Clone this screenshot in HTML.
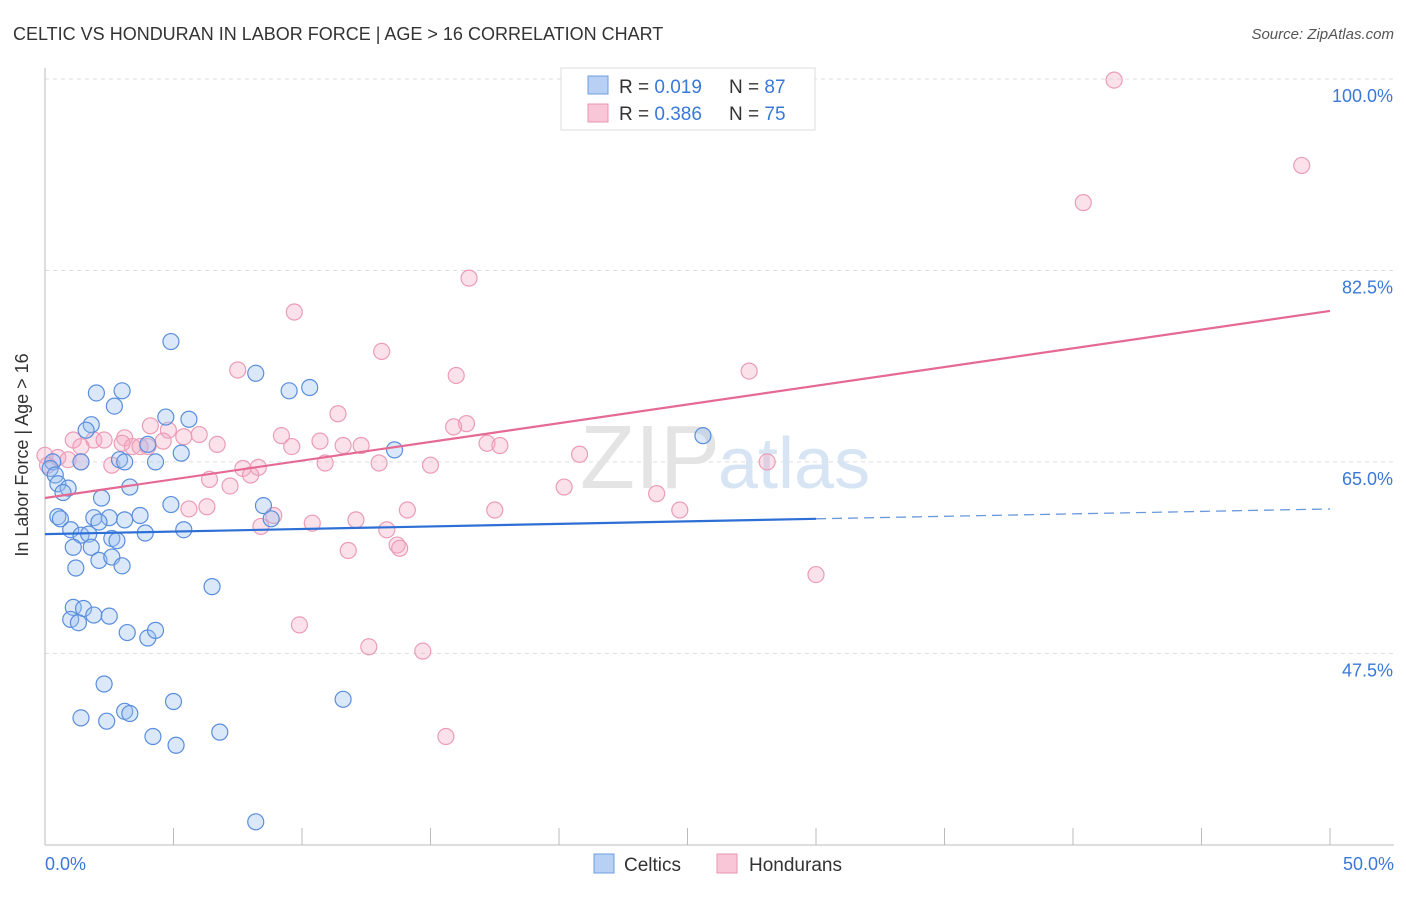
<!DOCTYPE html>
<html><head><meta charset="utf-8">
<style>
body{margin:0;background:#fff;font-family:"Liberation Sans",sans-serif;}
svg text{font-family:"Liberation Sans",sans-serif;}
</style></head>
<body>
<svg id="chart" width="1406" height="892" xmlns="http://www.w3.org/2000/svg">
<text x="13" y="40" font-size="18" fill="#333">CELTIC VS HONDURAN IN LABOR FORCE | AGE &gt; 16 CORRELATION CHART</text>
<text x="1394" y="39" font-size="15" fill="#555" font-style="italic" text-anchor="end">Source: ZipAtlas.com</text>
<g id="grid"></g>
<text x="720" y="488" font-size="90" fill="#e4e4e4" text-anchor="end" font-family="Liberation Serif">ZIP</text>
<text x="718" y="488" font-size="72" fill="#d6e4f3">atlas</text>
<g id="pts"></g>
<g id="lines"></g>
<text x="28" y="455" font-size="18" fill="#333" text-anchor="middle" transform="rotate(-90 28 455)">In Labor Force | Age &gt; 16</text>
<text x="45" y="870" font-size="18" fill="#3a78d8">0.0%</text>
<text x="1394" y="870" font-size="18" fill="#3a78d8" text-anchor="end">50.0%</text>
<g>
<rect x="561" y="68" width="254" height="62" fill="#fff" stroke="#ddd"/>
<rect x="588" y="76" width="20" height="18" fill="#b7d0f3" stroke="#6e9ee0"/>
<rect x="588" y="104" width="20" height="18" fill="#f8c6d6" stroke="#ea95b0"/>
<text x="619" y="93" font-size="19" fill="#333">R = <tspan fill="#3a78d8">0.019</tspan></text>
<text x="729" y="93" font-size="19" fill="#333">N = <tspan fill="#3a78d8">87</tspan></text>
<text x="619" y="120" font-size="19" fill="#333">R = <tspan fill="#3a78d8">0.386</tspan></text>
<text x="729" y="120" font-size="19" fill="#333">N = <tspan fill="#3a78d8">75</tspan></text>
</g>
<g>
<rect x="594" y="854" width="20" height="19" fill="#b7d0f3" stroke="#6e9ee0"/>
<text x="624" y="871" font-size="19" fill="#333">Celtics</text>
<rect x="717" y="854" width="20" height="19" fill="#f8c6d6" stroke="#ea95b0"/>
<text x="749" y="871" font-size="19" fill="#333">Hondurans</text>
</g>
</svg>
<script>
const yTicks=[100,82.5,65,47.5];
const yTickLabels=["100.0%","82.5%","65.0%","47.5%"];
const xTicks=[0,5,10,15,20,25,30,35,40,45,50];
const celticsX=[4.9,8.2,2.0,3.0,2.7,9.5,10.3,4.7,5.6,1.8,1.6,25.6,13.6,4.0,5.3,2.9,3.1,4.3,1.4,0.3,0.2,0.4,0.5,0.9,0.7,3.3,2.2,4.9,8.5,3.7,0.5,0.6,1.9,2.5,3.1,2.1,8.8,1.0,3.9,5.4,1.4,1.7,2.6,2.8,1.1,1.8,2.1,2.6,3.0,1.2,6.5,1.1,1.5,1.9,2.5,1.0,1.3,3.2,4.0,4.3,2.3,1.4,2.4,3.1,3.3,5.0,11.6,4.2,5.1,6.8,8.2];
const celticsY=[76.0,73.1,71.3,71.5,70.1,71.5,71.8,69.1,68.9,68.4,67.9,67.4,66.1,66.6,65.8,65.2,65.0,65.0,65.0,65.0,64.4,63.8,63.0,62.6,62.2,62.7,61.7,61.1,61.0,60.1,60.0,59.8,59.9,59.9,59.7,59.5,59.8,58.8,58.5,58.8,58.3,58.4,58.0,57.8,57.2,57.2,56.0,56.3,55.5,55.3,53.6,51.7,51.6,51.0,50.9,50.6,50.3,49.4,48.9,49.6,44.7,41.6,41.3,42.2,42.0,43.1,43.3,39.9,39.1,40.3,32.1];
const hondX=[41.6,48.9,40.4,16.5,9.7,13.1,7.5,16.0,27.4,11.4,16.4,15.9,4.1,4.8,1.1,1.9,2.3,3.1,3.0,3.4,3.7,4.0,5.4,6.0,4.6,6.7,9.2,9.6,10.7,11.6,12.3,17.2,17.7,20.8,28.1,0.0,0.1,0.5,0.9,1.4,1.4,2.6,7.7,8.3,8.0,10.9,13.0,15.0,6.4,7.2,20.2,23.8,5.6,6.3,8.9,8.4,10.4,12.1,13.3,14.1,17.5,24.7,11.8,13.7,13.8,30.0,9.9,12.6,14.7,15.6];
const hondY=[99.9,92.1,88.7,81.8,78.7,75.1,73.4,72.9,73.3,69.4,68.5,68.2,68.3,67.9,67.0,67.0,67.0,67.2,66.7,66.4,66.4,66.4,67.3,67.5,66.9,66.6,67.4,66.4,66.9,66.5,66.5,66.7,66.5,65.7,65.0,65.6,64.7,65.4,65.2,66.4,65.0,64.7,64.4,64.5,63.8,64.9,64.9,64.7,63.4,62.8,62.7,62.1,60.7,60.9,60.1,59.1,59.4,59.7,58.8,60.6,60.6,60.6,56.9,57.4,57.1,54.7,50.1,48.1,47.7,39.9];
const celticsTrend=[58.4,59.8,60.7]; // at x=0,30,50
const trendXs=[0,30,50];
const hondTrend=[61.7,78.8]; // at x=0,50
const NS="http://www.w3.org/2000/svg";
const sx=v=>45+v*25.7;
const sy=v=>79+(100-v)*10.94;
function mk(tag,attrs,parent){const e=document.createElementNS(NS,tag);for(const k in attrs)e.setAttribute(k,attrs[k]);parent.appendChild(e);return e;}
const grid=document.getElementById('grid');
yTicks.forEach((t,i)=>{
 const l=mk('line',{x1:45,x2:1394,y1:sy(t),y2:sy(t),stroke:'#ddd','stroke-dasharray':'4,4'},grid);
 
 
 const tx=mk('text',{x:1393,y:sy(t)+23,'font-size':18,fill:'#3a78d8','text-anchor':'end'},grid);
 tx.textContent=yTickLabels[i];
 
 
});
const ax=mk('line',{x1:45,x2:45,y1:68,y2:845,stroke:'#bbb'},grid);


const bx=mk('line',{x1:45,x2:1394,y1:845,y2:845,stroke:'#bbb'},grid);


xTicks.forEach(t=>{
 const l=mk('line',{x1:sx(t),x2:sx(t),y1:828,y2:845,stroke:'#bbb'},grid);
 
 
});
const pts=document.getElementById('pts');
hondX.forEach((x,i)=>{
 const c=mk('circle',{cx:sx(x),cy:sy(hondY[i]),r:8,fill:'rgba(244,170,195,0.35)',stroke:'#ec9cb6','stroke-width':1.2},pts);
 
 
});
celticsX.forEach((x,i)=>{
 const c=mk('circle',{cx:sx(x),cy:sy(celticsY[i]),r:8,fill:'rgba(150,190,240,0.35)',stroke:'#5a8edc','stroke-width':1.2},pts);
 
 
});
const lines=document.getElementById('lines');
const b1=mk('line',{x1:sx(trendXs[0]),y1:sy(celticsTrend[0]),x2:sx(trendXs[1]),y2:sy(celticsTrend[1]),stroke:'#2e6fd6','stroke-width':2.2},lines);


const b2=mk('line',{x1:sx(trendXs[1]),y1:sy(celticsTrend[1]),x2:sx(trendXs[2]),y2:sy(celticsTrend[2]),stroke:'#6a98dc','stroke-width':1.3,'stroke-dasharray':'10,6'},lines);


const p1=mk('line',{x1:sx(0),y1:sy(hondTrend[0]),x2:sx(50),y2:sy(hondTrend[1]),stroke:'#e56a93','stroke-width':2.2},lines);


</script>
</body></html>
